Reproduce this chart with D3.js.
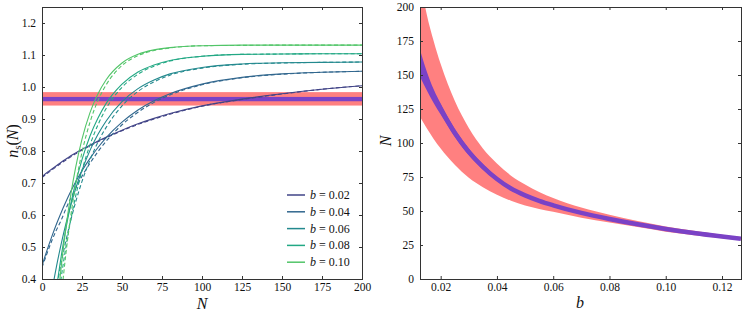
<!DOCTYPE html>
<html>
<head>
<meta charset="utf-8">
<script src="https://cdn.jsdelivr.net/npm/d3@7"></script>
<style>
  body { margin: 0; background: #fff; }
  text { font-family: "Liberation Serif", "DejaVu Serif", serif; fill: #111; }
</style>
</head>
<body>
<div class="chart_container"></div>
<script>
// ---- left panel: n_s(N) for several b ----
var Ns = [0, 3, 6, 9, 12, 15, 18, 21, 25, 30, 35, 40, 50, 60, 70, 80, 100, 125, 150, 175, 200];
var bValues = [0.02, 0.04, 0.06, 0.08, 0.10];
var bLabels = ["0.02", "0.04", "0.06", "0.08", "0.10"];
var nsSolid002 = [0.720, 0.732, 0.743, 0.754, 0.765, 0.775, 0.785, 0.794, 0.805, 0.818, 0.831, 0.843, 0.865, 0.885, 0.902, 0.917, 0.941, 0.962, 0.979, 0.993, 1.004];
var nsDash002  = [0.717, 0.729, 0.740, 0.751, 0.762, 0.772, 0.782, 0.791, 0.803, 0.816, 0.829, 0.841, 0.863, 0.883, 0.900, 0.915, 0.940, 0.961, 0.978, 0.993, 1.004];
var nsSolid004 = [0.441, 0.488, 0.531, 0.571, 0.608, 0.642, 0.674, 0.703, 0.738, 0.777, 0.811, 0.841, 0.890, 0.928, 0.957, 0.979, 1.009, 1.030, 1.041, 1.046, 1.049];
var nsDash004  = [0.436, 0.478, 0.518, 0.553, 0.584, 0.620, 0.653, 0.683, 0.721, 0.762, 0.798, 0.830, 0.882, 0.921, 0.952, 0.975, 1.007, 1.029, 1.040, 1.046, 1.049];
var nsSolid006 = [0.160, 0.264, 0.356, 0.438, 0.510, 0.574, 0.631, 0.682, 0.740, 0.802, 0.852, 0.893, 0.954, 0.995, 1.022, 1.041, 1.061, 1.072, 1.076, 1.077, 1.078];
var nsDash006  = [0.063, 0.178, 0.280, 0.370, 0.450, 0.521, 0.584, 0.640, 0.705, 0.772, 0.828, 0.873, 0.941, 0.986, 1.016, 1.037, 1.059, 1.071, 1.075, 1.077, 1.078];
var nsSolid008 = [-0.050, 0.111, 0.249, 0.368, 0.471, 0.559, 0.635, 0.700, 0.773, 0.847, 0.903, 0.948, 1.009, 1.047, 1.069, 1.083, 1.096, 1.102, 1.103, 1.104, 1.104];
var nsDash008  = [-0.171, 0.006, 0.159, 0.291, 0.404, 0.502, 0.585, 0.658, 0.739, 0.819, 0.882, 0.932, 0.999, 1.040, 1.065, 1.081, 1.096, 1.102, 1.103, 1.104, 1.104];
var nsSolid010 = [-0.400, -0.125, 0.101, 0.286, 0.438, 0.562, 0.664, 0.748, 0.837, 0.920, 0.979, 1.022, 1.075, 1.102, 1.116, 1.123, 1.129, 1.131, 1.131, 1.131, 1.131];
var nsDash010  = [-0.616, -0.302, -0.045, 0.166, 0.340, 0.482, 0.598, 0.694, 0.796, 0.890, 0.958, 1.006, 1.067, 1.098, 1.114, 1.122, 1.129, 1.130, 1.131, 1.131, 1.131];
var nsSolid = [nsSolid002, nsSolid004, nsSolid006, nsSolid008, nsSolid010];
var nsDash = [nsDash002, nsDash004, nsDash006, nsDash008, nsDash010];
var nsBand = [0.942, 0.984];   // red
var nsCore = [0.9555, 0.969];  // purple
var leftXTicks = [0, 25, 50, 75, 100, 125, 150, 175, 200];
var leftYTicks = [0.4, 0.5, 0.6, 0.7, 0.8, 0.9, 1.0, 1.1, 1.2];

// ---- right panel: N(b) ----
var bGrid   = [0.0126, 0.015, 0.0175, 0.02, 0.025, 0.03, 0.035, 0.04, 0.045, 0.05, 0.055, 0.06, 0.07, 0.08, 0.09, 0.10, 0.11, 0.12, 0.1267];
var Nmid    = [159, 146, 134.5, 125, 107.5, 93.5, 82.5, 73.5, 66.5, 61.5, 57.5, 54.2, 48.6, 44.1, 40.2, 36.8, 33.8, 31.2, 29.6];
var NredLo  = [119.5, 111, 103, 96, 84, 74.5, 67.5, 62, 57.5, 54, 51.5, 49.5, 45, 41.5, 38.2, 34.8, 32.2, 29.9, 28.5];
var NredHi  = [222, 195, 175, 158, 131, 111, 96, 85, 76, 69.5, 64, 59.5, 52.5, 47.3, 42.6, 38.6, 35.5, 32.5, 30.9];
var NcoreLo = [149, 139, 129.5, 121, 104.5, 91, 80.5, 72, 65.3, 60.5, 56.7, 53.5, 48.1, 43.7, 39.9, 36.5, 33.6, 31.0, 29.4];
var NcoreHi = [169, 153, 139.5, 129, 110.5, 96, 84.5, 75, 67.7, 62.5, 58.3, 54.9, 49.1, 44.5, 40.5, 37.1, 34.0, 31.4, 29.8];
var rightXTicks = [0.02, 0.04, 0.06, 0.08, 0.10, 0.12];
var rightYTicks = [0, 25, 50, 75, 100, 125, 150, 175, 200];

var colors = [0.2, 0.33, 0.47, 0.6, 0.73].map(d3.interpolateViridis);
var red = "#ff8080", purple = "#7a42c6";

var svg = d3.select(".chart_container").append("svg")
    .attr("width", 745).attr("height", 315);

function frame(g, w, h) {
    g.append("rect").attr("x", 0.5).attr("y", 0.5).attr("width", w).attr("height", h)
        .attr("fill", "none").attr("stroke", "#333").attr("stroke-width", 1);
}
function axes(g, x, y, w, h, xt, yt, xf, yf) {
    g.append("g").attr("transform", "translate(0," + h + ")")
        .call(d3.axisBottom(x).tickValues(xt).tickSize(-3).tickPadding(3.5).tickFormat(xf));
    g.append("g")
        .call(d3.axisTop(x).tickValues(xt).tickSize(-3).tickFormat(""));
    g.append("g")
        .call(d3.axisLeft(y).tickValues(yt).tickSize(-3).tickPadding(6).tickFormat(yf));
    g.append("g").attr("transform", "translate(" + w + ",0)")
        .call(d3.axisRight(y).tickValues(yt).tickSize(-3).tickFormat(""));
    g.selectAll(".domain").remove();
    g.selectAll(".tick line").attr("stroke", "#333");
    g.selectAll(".tick text").attr("font-size", 11.5).attr("font-family", "Liberation Serif, serif").attr("fill", "#111");
}

// ---------- left ----------
var L = {x: 42, y: 7, w: 320, h: 272};
var gL = svg.append("g").attr("transform", "translate(" + L.x + "," + L.y + ")");
var xL = d3.scaleLinear().domain([0, 200]).range([0, L.w]);
var yL = d3.scaleLinear().domain([0.4, 1.25]).range([L.h, 0]);
svg.append("clipPath").attr("id", "clipL").append("rect").attr("width", L.w).attr("height", L.h);
var plotL = gL.append("g").attr("clip-path", "url(#clipL)");
plotL.append("rect").attr("x", 0).attr("width", L.w)
    .attr("y", yL(nsBand[1])).attr("height", yL(nsBand[0]) - yL(nsBand[1]))
    .attr("fill", red);
plotL.append("rect").attr("x", 0).attr("width", L.w)
    .attr("y", yL(nsCore[1])).attr("height", yL(nsCore[0]) - yL(nsCore[1]))
    .attr("fill", purple);
var lineL = d3.line().curve(d3.curveMonotoneX)
    .x(function(d, i) { return xL(Ns[i]); })
    .y(function(d) { return yL(d); });
bValues.forEach(function(b, i) {
    plotL.append("path").attr("d", lineL(nsDash[i])).attr("fill", "none")
        .attr("stroke", colors[i]).attr("stroke-width", 1.1).attr("stroke-dasharray", "4,2.5");
    plotL.append("path").attr("d", lineL(nsSolid[i])).attr("fill", "none")
        .attr("stroke", colors[i]).attr("stroke-width", 1.1);
});
axes(gL, xL, yL, L.w, L.h, leftXTicks, leftYTicks, d3.format("d"), d3.format(".1f"));
frame(gL, L.w, L.h);

// legend
var leg = gL.append("g").attr("transform", "translate(245,188)");
bLabels.forEach(function(lab, i) {
    var row = leg.append("g").attr("transform", "translate(0," + (i * 16.8) + ")");
    row.append("line").attr("x1", 0).attr("x2", 18).attr("y1", 0).attr("y2", 0)
        .attr("stroke", colors[i]).attr("stroke-width", 1.5);
    var t = row.append("text").attr("x", 23).attr("y", 4).attr("font-size", 12);
    t.append("tspan").attr("font-style", "italic").text("b");
    t.append("tspan").text(" = " + lab);
});

// labels
var yLab = svg.append("text").attr("transform", "translate(18,141) rotate(-90)")
    .attr("text-anchor", "middle").attr("font-size", 16);
yLab.append("tspan").attr("font-style", "italic").text("n");
yLab.append("tspan").attr("font-size", 11).attr("dy", 3).text("s");
yLab.append("tspan").attr("dy", -3).text("(");
yLab.append("tspan").attr("font-style", "italic").text("N");
yLab.append("tspan").text(")");
svg.append("text").attr("x", 202).attr("y", 309).attr("text-anchor", "middle")
    .attr("font-size", 16).attr("font-style", "italic").text("N");

// ---------- right ----------
var R = {x: 420, y: 7, w: 321, h: 272};
var gR = svg.append("g").attr("transform", "translate(" + R.x + "," + R.y + ")");
var xR = d3.scaleLinear().domain([0.01265, 0.12675]).range([0, R.w]);
var yR = d3.scaleLinear().domain([0, 200]).range([R.h, 0]);
svg.append("clipPath").attr("id", "clipR").append("rect").attr("width", R.w).attr("height", R.h);
var plotR = gR.append("g").attr("clip-path", "url(#clipR)");
function band(lo, hi) {
    return d3.area().curve(d3.curveMonotoneX)
        .x(function(d, i) { return xR(bGrid[i]); })
        .y0(function(d, i) { return yR(lo[i]); })
        .y1(function(d, i) { return yR(hi[i]); })(bGrid);
}
plotR.append("path").attr("d", band(NredLo, NredHi)).attr("fill", red);
plotR.append("path").attr("d", band(NcoreLo, NcoreHi)).attr("fill", purple);
plotR.append("path").attr("fill", "none").attr("stroke", purple).attr("stroke-width", 4.5)
    .attr("d", d3.line().curve(d3.curveMonotoneX)
        .x(function(d, i) { return xR(bGrid[i]); })
        .y(function(d) { return yR(d); })(Nmid));
axes(gR, xR, yR, R.w, R.h, rightXTicks, rightYTicks, d3.format(".2f"), d3.format("d"));
frame(gR, R.w, R.h);

svg.append("text").attr("transform", "translate(391,141) rotate(-90)")
    .attr("text-anchor", "middle").attr("font-size", 16).attr("font-style", "italic").text("N");
svg.append("text").attr("x", 580).attr("y", 308).attr("text-anchor", "middle")
    .attr("font-size", 16).attr("font-style", "italic").text("b");
</script>
</body>
</html>
